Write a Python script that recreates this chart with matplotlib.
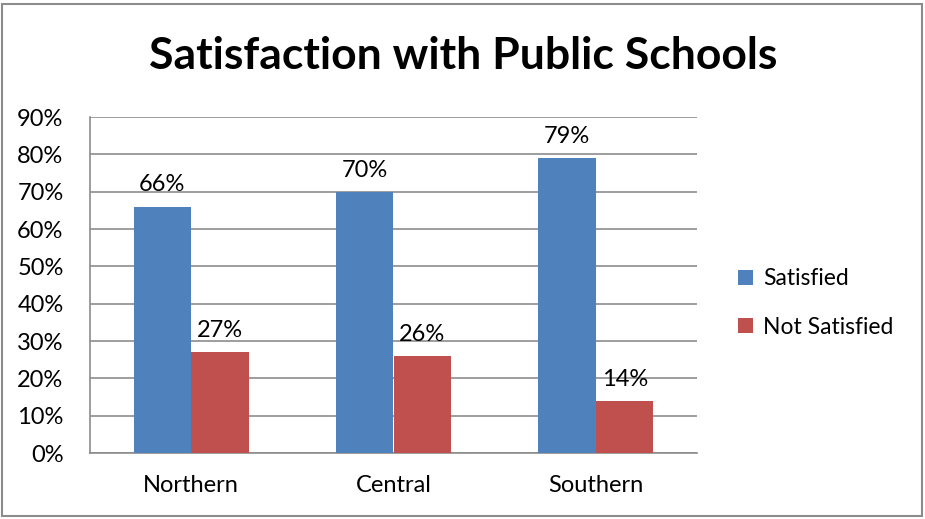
import matplotlib.pyplot as plt
from matplotlib.patches import Rectangle
import numpy as np

regions = ['Northern', 'Central', 'Southern']
satisfied = [66, 70, 79]
not_satisfied = [27, 26, 14]
series_names = ['Satisfied', 'Not Satisfied']
colors = ['#4F81BD', '#C0504D']

plt.rcParams['font.family'] = ['Lato', 'DejaVu Sans']

fig = plt.figure(figsize=(9.25, 5.19), dpi=100)
ax = fig.add_axes([90 / 925, 1 - 453 / 519, 607 / 925, 336 / 519])

x = np.arange(len(regions))
w = 0.285
b1 = ax.bar(x - w / 2, satisfied, w, color=colors[0], label=series_names[0], zorder=3)
b2 = ax.bar(x + w / 2, not_satisfied, w, color=colors[1], label=series_names[1], zorder=3)

for bars in (b1, b2):
    for bar in bars:
        h = bar.get_height()
        ax.annotate(f'{h:.0f}%', (bar.get_x() + bar.get_width() / 2, h),
                    xytext=(0, 8), textcoords='offset points',
                    ha='center', va='bottom', fontsize=17, color='black')

ax.set_xlim(-0.5, 2.5)
ax.set_ylim(0, 90)
ax.set_yticks(range(0, 91, 10))
ax.set_yticklabels([f'{v}%' for v in range(0, 91, 10)])
ax.set_xticks(x)
ax.set_xticklabels(regions)
ax.tick_params(axis='both', length=0, labelsize=17, colors='black')
ax.tick_params(axis='y', pad=19)
ax.tick_params(axis='x', pad=16)
ax.yaxis.grid(True, color='#8c8c8c', linewidth=1.2, zorder=0)
for s in ['top', 'right']:
    ax.spines[s].set_visible(False)
ax.spines['left'].set_color('#8c8c8c')
ax.spines['bottom'].set_color('#8c8c8c')
ax.spines['left'].set_linewidth(1.2)
ax.spines['bottom'].set_linewidth(1.2)

fig.text(463 / 925, 1 - 56 / 519, 'Satisfaction with Public Schools',
         ha='center', va='center', fontsize=32, fontweight='bold')

fig.legend(loc='center left', bbox_to_anchor=(717 / 925, 1 - 303 / 519),
           frameon=False, fontsize=16.5, handlelength=0.65, handleheight=0.65,
           handletextpad=0.45, labelspacing=1.2)

fig.patches.append(Rectangle((2 / 925, 3 / 519), 920 / 925, 512 / 519,
                             transform=fig.transFigure, fill=False,
                             edgecolor='#8c8c8c', linewidth=1.5))

fig.savefig('out.png', dpi=100)
